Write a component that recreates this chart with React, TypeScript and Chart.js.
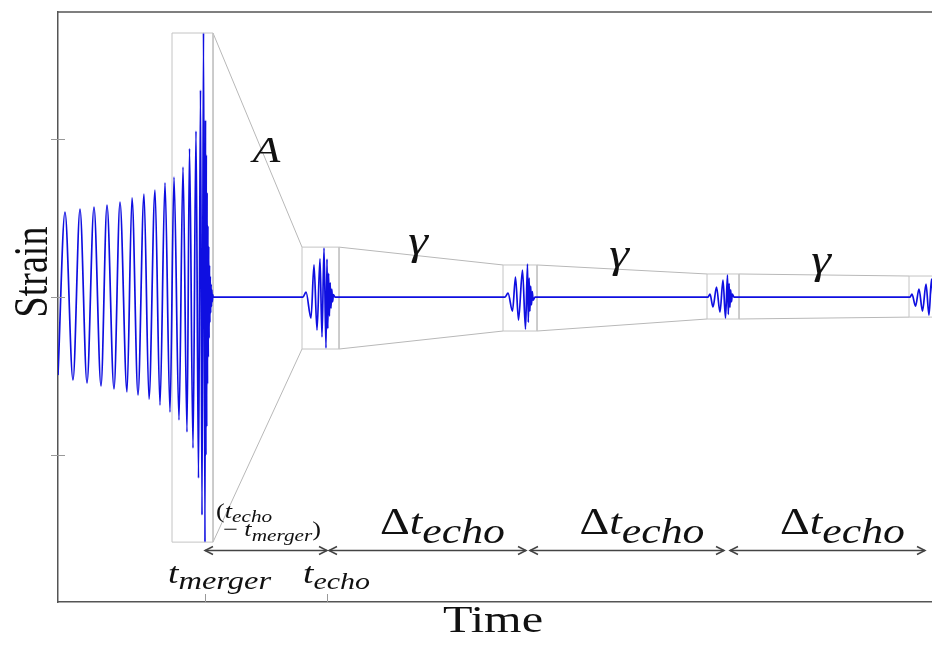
import React, { useEffect, useRef } from "react";
import { Chart, registerables } from "chart.js";

Chart.register(...registerables);

// ---------- data (time in arbitrary units, t_merger = 0) ----------
const inspiralT = [-14.7, -14.0, -13.2, -12.5, -11.8, -11.1, -10.4, -9.8, -9.1, -8.5, -7.8, -7.3, -6.7, -6.1, -5.6, -5.0, -4.5, -4.0, -3.5, -3.1, -2.6, -2.2, -1.8, -1.55, -1.2, -0.9, -0.65, -0.45, -0.3, -0.15, 0.0];
const inspiralH = [-0.494, 0.538, -0.525, 0.557, -0.544, 0.57, -0.563, 0.582, -0.582, 0.601, -0.601, 0.627, -0.62, 0.652, -0.646, 0.677, -0.684, 0.722, -0.728, 0.759, -0.778, 0.823, -0.854, 0.94, -0.956, 1.051, -1.146, 1.31, -1.38, 1.671, -1.551];

const ringdownT = [0.05, 0.09, 0.13, 0.17, 0.21, 0.25, 0.29, 0.33, 0.37, 0.41, 0.45, 0.49, 0.53, 0.57, 0.61, 0.65, 0.69, 0.73, 0.77, 0.82];
const ringdownH = [1.12, -1.0, 0.9, -0.82, 0.66, -0.55, 0.45, -0.38, 0.32, -0.26, 0.2, -0.16, 0.13, -0.1, 0.08, -0.06, 0.045, -0.03, 0.015, 0];

const echo1T = [9.8, 10.1, 10.6, 10.9, 11.2, 11.5, 11.7, 11.9, 12.1, 12.2, 12.28, 12.36, 12.44, 12.52, 12.6, 12.68, 12.76, 12.84, 13.0];
const echo1H = [0, 0.032, -0.133, 0.203, -0.209, 0.241, -0.253, 0.31, -0.323, 0.24, -0.2, 0.15, -0.12, 0.09, -0.07, 0.05, -0.03, 0.015, 0];

const echo2T = [30.0, 30.3, 30.75, 31.05, 31.35, 31.75, 32.05, 32.25, 32.33, 32.41, 32.49, 32.57, 32.65, 32.73, 32.81, 33.0];
const echo2H = [0, 0.025, -0.089, 0.127, -0.146, 0.171, -0.203, 0.209, -0.16, 0.12, -0.09, 0.07, -0.05, 0.035, -0.02, 0];

const echo3T = [50.3, 50.5, 50.8, 51.15, 51.5, 51.8, 52.05, 52.25, 52.33, 52.41, 52.49, 52.57, 52.65, 52.73, 52.9];
const echo3H = [0, 0.019, -0.063, 0.063, -0.095, 0.108, -0.133, 0.139, -0.11, 0.085, -0.065, 0.045, -0.03, 0.018, 0];

const echo4T = [70.5, 70.7, 71.05, 71.4, 71.75, 72.1, 72.4, 72.65, 72.9];
const echo4H = [0, 0.019, -0.057, 0.051, -0.089, 0.082, -0.114, 0.114, -0.12];

// zoom boxes: merger window, then echoes
const boxLeft = [-3.3, 9.7, 29.8, 50.2, 70.4];
const boxRight = [0.8, 13.4, 33.2, 53.4, 74.0];
const boxTop = [1.671, 0.316, 0.203, 0.146, 0.133];
const boxBottom = [-1.551, -0.329, -0.215, -0.139, -0.127];

// time markers and arrows
const markerTimes = [0, 12.2];
const markerSubs = ["merger", "echo"];
const arrowFrom = [0, 12.4, 32.5, 52.5];
const arrowTo = [12.2, 32.1, 51.9, 72.0];
const arrowLevel = -1.6;
const yTickValues = [-1, 0, 1];

const X_MIN = -14.7;
const X_MAX = 72.7;
const Y_MIN = -1.93;
const Y_MAX = 1.804;

// ---------- helpers ----------
const SERIF = "'Liberation Serif', 'Times New Roman', serif";
const it = (px: number) => `italic ${px}px ${SERIF}`;
const up = (px: number) => `${px}px ${SERIF}`;

type Part = { text: string; font: string; dy?: number };

function drawMath(ctx: CanvasRenderingContext2D, parts: Part[], x: number, baseline: number, align: "left" | "center", sx: number) {
  const widths = parts.map((p) => {
    ctx.font = p.font;
    return ctx.measureText(p.text).width;
  });
  const total = widths.reduce((a, b) => a + b, 0) * sx;
  const start = align === "center" ? x - total / 2 : x;
  ctx.save();
  ctx.translate(start, baseline);
  ctx.scale(sx, 1);
  ctx.textAlign = "left";
  ctx.textBaseline = "alphabetic";
  let cx = 0;
  parts.forEach((p, i) => {
    ctx.font = p.font;
    ctx.fillText(p.text, cx, p.dy || 0);
    cx += widths[i];
  });
  ctx.restore();
}

function seg(ctx: CanvasRenderingContext2D, x1: number, y1: number, x2: number, y2: number) {
  ctx.beginPath();
  ctx.moveTo(x1, y1);
  ctx.lineTo(x2, y2);
  ctx.stroke();
}

const overlay = {
  id: "overlay",
  afterDatasetsDraw(chart: any) {
    const { ctx, chartArea } = chart;
    const { left, right, top, bottom } = chartArea;
    const xs = chart.scales.x;
    const ys = chart.scales.y;
    const SX = 1.25;
    ctx.save();

    // top frame line
    ctx.strokeStyle = "#555";
    ctx.lineWidth = 1.5;
    seg(ctx, left, top, right, top);

    // y ticks (crossing the axis)
    ctx.strokeStyle = "#999";
    ctx.lineWidth = 1;
    yTickValues.forEach((v) => {
      const py = Math.round(ys.getPixelForValue(v)) + 0.5;
      seg(ctx, left - 7, py, left + 7, py);
    });
    // x ticks (inward)
    markerTimes.forEach((t) => {
      const px = Math.round(xs.getPixelForValue(t)) + 0.5;
      seg(ctx, px, bottom, px, bottom - 8);
    });

    // double arrows
    ctx.strokeStyle = "#444";
    ctx.lineWidth = 1.5;
    const ay = Math.round(ys.getPixelForValue(arrowLevel)) + 0.5;
    arrowFrom.forEach((f, i) => {
      const x1 = xs.getPixelForValue(f);
      const x2 = xs.getPixelForValue(arrowTo[i]);
      seg(ctx, x1, ay, x2, ay);
      ctx.beginPath();
      ctx.moveTo(x1 + 8, ay - 4);
      ctx.lineTo(x1, ay);
      ctx.lineTo(x1 + 8, ay + 4);
      ctx.moveTo(x2 - 8, ay - 4);
      ctx.lineTo(x2, ay);
      ctx.lineTo(x2 - 8, ay + 4);
      ctx.stroke();
    });

    ctx.fillStyle = "#111";

    // Δt_echo labels
    arrowFrom.slice(1).forEach((f, k) => {
      const i = k + 1;
      const mid = (xs.getPixelForValue(f) + xs.getPixelForValue(arrowTo[i])) / 2;
      drawMath(ctx, [
        { text: "Δ", font: up(37) },
        { text: "t", font: it(36) },
        { text: "echo", font: it(35), dy: 9 },
      ], mid + 15, ay - 17, "center", SX);
    });

    // (t_echo - t_merger)
    const mx = xs.getPixelForValue(markerTimes[0]);
    drawMath(ctx, [
      { text: "(", font: up(21) },
      { text: "t", font: it(21) },
      { text: "echo", font: it(17), dy: 4 },
    ], mx + 11, ay - 33, "left", SX);
    drawMath(ctx, [
      { text: "− ", font: up(21) },
      { text: "t", font: it(21) },
      { text: "merger", font: it(17), dy: 5 },
      { text: ")", font: up(21) },
    ], mx + 18, ay - 15, "left", SX);

    // tick labels t_merger, t_echo
    markerTimes.forEach((t, i) => {
      const px = xs.getPixelForValue(t);
      drawMath(ctx, [
        { text: "t", font: it(30) },
        { text: markerSubs[i], font: it(i === 1 ? 24 : 26), dy: 6 },
      ], px - 37 + (i === 1 ? 13 : 0), bottom - 19, "left", SX);
    });

    // A label on first connector
    const ax = (xs.getPixelForValue(boxRight[0]) + xs.getPixelForValue(boxLeft[1])) / 2;
    const ayA = (ys.getPixelForValue(boxTop[0]) + ys.getPixelForValue(boxTop[1])) / 2;
    drawMath(ctx, [{ text: "A", font: it(36) }], ax + 9, ayA + 22, "center", SX);

    // gamma labels on following connectors
    for (let i = 1; i < boxLeft.length - 1; i++) {
      const gx = (xs.getPixelForValue(boxRight[i]) + xs.getPixelForValue(boxLeft[i + 1])) / 2;
      const gy = (ys.getPixelForValue(boxTop[i]) + ys.getPixelForValue(boxTop[i + 1])) / 2;
      drawMath(ctx, [{ text: "γ", font: it(40) }], gx - 3, gy - 2, "center", SX);
    }

    // axis titles
    drawMath(ctx, [{ text: "Time", font: up(38) }], 493, 632, "center", 1.27);
    ctx.save();
    ctx.translate(47, 272);
    ctx.rotate(-Math.PI / 2);
    ctx.scale(1, 1.27);
    ctx.font = up(38);
    ctx.textAlign = "center";
    ctx.textBaseline = "alphabetic";
    ctx.fillText("Strain", 0, 0);
    ctx.restore();

    ctx.restore();
  },
};

function pts(ts: number[], hs: number[]) {
  return ts.map((t, i) => ({ x: t, y: hs[i] }));
}

export default function App() {
  const ref = useRef<HTMLCanvasElement | null>(null);

  useEffect(() => {
    if (!ref.current) return;
    const wave = [
      ...pts(inspiralT, inspiralH),
      ...pts(ringdownT, ringdownH),
      ...pts(echo1T, echo1H),
      ...pts(echo2T, echo2H),
      ...pts(echo3T, echo3H),
      ...pts(echo4T, echo4H),
    ];
    const gray = "#c4c4c4";
    const boxSets = boxLeft.map((l, i) => ({
      data: [
        { x: l, y: boxTop[i] },
        { x: boxRight[i], y: boxTop[i] },
        { x: boxRight[i], y: boxBottom[i] },
        { x: l, y: boxBottom[i] },
        { x: l, y: boxTop[i] },
      ],
      borderColor: gray,
      borderWidth: 1,
      pointRadius: 0,
      tension: 0,
      order: 2,
    }));
    const connSets: any[] = [];
    for (let i = 0; i < boxLeft.length - 1; i++) {
      connSets.push({
        data: [{ x: boxRight[i], y: boxTop[i] }, { x: boxLeft[i + 1], y: boxTop[i + 1] }],
        borderColor: "#b8b8b8", borderWidth: 1, pointRadius: 0, tension: 0, order: 2,
      });
      connSets.push({
        data: [{ x: boxRight[i], y: boxBottom[i] }, { x: boxLeft[i + 1], y: boxBottom[i + 1] }],
        borderColor: "#b8b8b8", borderWidth: 1, pointRadius: 0, tension: 0, order: 2,
      });
    }
    const chart = new Chart(ref.current, {
      type: "line",
      data: {
        datasets: [
          {
            label: "Strain",
            data: wave,
            borderColor: "rgb(15,15,225)",
            borderWidth: 1.7,
            pointRadius: 0,
            cubicInterpolationMode: "monotone",
            order: 1,
          },
          ...boxSets,
          ...connSets,
        ] as any,
      },
      options: {
        animation: false,
        responsive: true,
        maintainAspectRatio: false,
        layout: { padding: { left: 58, top: 12, right: 0, bottom: 43 } },
        plugins: { legend: { display: false }, tooltip: { enabled: false } },
        scales: {
          x: {
            type: "linear",
            min: X_MIN,
            max: X_MAX,
            grid: { display: false, drawTicks: false },
            ticks: { display: false },
            border: { color: "#555", width: 1.5 },
          },
          y: {
            type: "linear",
            min: Y_MIN,
            max: Y_MAX,
            grid: { display: false, drawTicks: false },
            ticks: { display: false },
            border: { color: "#555", width: 1.5 },
          },
        },
      },
      plugins: [overlay],
    });
    return () => chart.destroy();
  }, []);

  return (
    <div style={{ position: "absolute", left: 0, top: 0, width: 932, height: 645, background: "#fff" }}>
      <canvas ref={ref} />
    </div>
  );
}
